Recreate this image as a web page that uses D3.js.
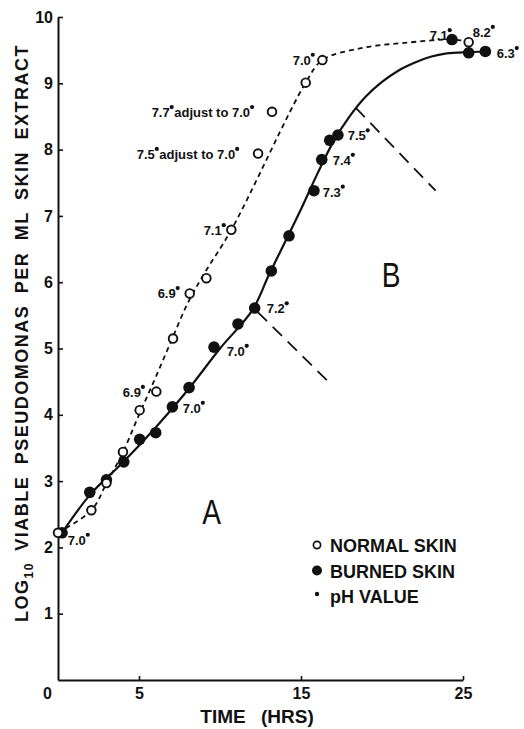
<!DOCTYPE html>
<html>
<head>
<meta charset="utf-8">
<script src="https://cdn.jsdelivr.net/npm/d3@7"></script>
<style>
    body { margin: 0; background: #fff; }
    svg { display: block; }
    text { font-family: "Liberation Sans", Arial, sans-serif; fill: #111; }
</style>
</head>
<body>
<div id="chart"></div>
<script>

// time (hrs), log10 count
var normalSkin = [[0, 2.22], [2.06, 2.56], [2.99, 2.97], [4.01, 3.44], [5.04, 4.07], [6.07, 4.35],
    [7.1, 5.15], [8.13, 5.83], [9.16, 6.06], [10.7, 6.79], [12.35, 7.94], [13.21, 8.57],
    [15.29, 9.01], [16.32, 9.35], [25.35, 9.62]];

var burnedSkin = [[0.25, 2.22], [1.96, 2.83], [2.99, 3.02], [4.06, 3.29], [5.04, 3.63], [6.03, 3.73],
    [7.06, 4.12], [8.09, 4.41], [9.63, 5.02], [11.11, 5.37], [12.14, 5.61], [13.17, 6.17],
    [14.26, 6.70], [15.8, 7.38], [16.28, 7.85], [16.77, 8.14], [17.28, 8.22], [24.32, 9.66],
    [25.35, 9.46], [26.38, 9.48]];

// hand drawn fit curves
var normalFit = [[0, 2.22], [2.06, 2.56], [3, 2.97], [4, 3.43], [5, 4.0], [6, 4.55], [7, 5.12],
    [8, 5.68], [9, 6.12], [10.7, 6.79], [15.29, 9.01], [16.32, 9.35], [18.7, 9.53], [21.4, 9.61],
    [24.3, 9.66], [25.35, 9.63]];

var burnedFit = [[0.25, 2.22], [2, 2.8], [4, 3.28], [6, 3.8], [8, 4.37], [10, 5.0], [12, 5.58],
    [13, 6.1], [14, 6.6], [15, 7.1], [16, 7.63], [17, 8.12], [18, 8.5], [19, 8.8], [20, 9.02],
    [21, 9.19], [22, 9.31], [23, 9.4], [24, 9.45], [25.35, 9.47], [26.38, 9.48]];

var tangentA = [[12.33, 5.55], [16.77, 4.48]];
var tangentB = [[18.38, 8.63], [23.31, 7.38]];

// pH labels: text ("*" = pH dot), time, value at baseline left
var phLabels = [
    ["7.0*", 0.6, 2.04],
    ["6.9*", 4.0, 4.27],
    ["7.0*", 7.7, 4.03],
    ["6.9*", 6.15, 5.76],
    ["7.0*", 10.41, 4.89],
    ["7.2*", 12.88, 5.53],
    ["7.1*", 8.99, 6.71],
    ["7.5*adjust to 7.0*", 4.86, 7.86],
    ["7.7*adjust to 7.0*", 5.78, 8.49],
    ["7.0*", 14.49, 9.28],
    ["7.5*", 17.88, 8.14],
    ["7.4*", 16.96, 7.77],
    ["7.3*", 16.34, 7.29],
    ["7.1*", 22.94, 9.65],
    ["8.2*", 25.6, 9.70],
    ["6.3*", 27.08, 9.38]
];

var phaseLabels = [["A", 9.49, 2.35], ["B", 20.57, 5.93]];

var xTicks = [0, 5, 15, 25];
var yTicks = [1, 2, 3, 4, 5, 6, 7, 8, 9, 10];
var legendItems = ["NORMAL SKIN", "BURNED SKIN", "pH VALUE"];

var margin = { top: 17, right: 61, bottom: 49, left: 58 },
    width = 524 - margin.left - margin.right,
    height = 729 - margin.top - margin.bottom;

var root = d3.select("#chart")
    .append("svg")
    .attr("width", 524)
    .attr("height", 729);

var svg = root.append("g")
    .attr("transform", "translate(" + margin.left + "," + margin.top + ")");

var x = d3.scaleLinear().domain([0, 25]).range([0, width]);
var y = d3.scaleLinear().domain([0, 10]).range([height, 0]);

// axes, ticks point inwards
var xAxis = svg.append("g")
    .attr("transform", "translate(0," + height + ")")
    .call(d3.axisBottom(x).tickValues(xTicks).tickSizeInner(-4).tickSizeOuter(0).tickPadding(8));

var yAxis = svg.append("g")
    .call(d3.axisLeft(y).tickValues(yTicks).tickSizeInner(-5).tickSizeOuter(0).tickPadding(5));

[xAxis, yAxis].forEach(function (a) {
    a.select(".domain").attr("stroke", "#111").attr("stroke-width", 2);
    a.selectAll(".tick line").attr("stroke", "#111").attr("stroke-width", 1.6);
    a.selectAll(".tick text")
        .attr("font-family", "Liberation Sans, Arial, sans-serif")
        .attr("font-size", 16)
        .attr("font-weight", "bold")
        .attr("fill", "#111");
});
xAxis.selectAll(".tick").filter(function (d) { return d === 0; })
    .select("text").attr("dx", -11);
xAxis.selectAll(".tick").filter(function (d) { return d === 0; })
    .select("line").remove();

var line = d3.line()
    .x(function (d) { return x(d[0]); })
    .y(function (d) { return y(d[1]); })
    .curve(d3.curveCatmullRom.alpha(0.5));

svg.append("path")
    .datum(normalFit)
    .attr("d", line)
    .attr("fill", "none")
    .attr("stroke", "#111")
    .attr("stroke-width", 1.8)
    .attr("stroke-dasharray", "5,4");

svg.append("path")
    .datum(burnedFit)
    .attr("d", line)
    .attr("fill", "none")
    .attr("stroke", "#111")
    .attr("stroke-width", 2.2);

// the two long dashed markers
[tangentA, tangentB].forEach(function (t) {
    svg.append("path")
        .datum(t)
        .attr("d", d3.line().x(function (d) { return x(d[0]); }).y(function (d) { return y(d[1]); }))
        .attr("fill", "none")
        .attr("stroke", "#111")
        .attr("stroke-width", 1.8)
        .attr("stroke-dasharray", "13,8");
});

// points
svg.append("g").selectAll("circle")
    .data(burnedSkin)
    .enter().append("circle")
    .attr("cx", function (d) { return x(d[0]); })
    .attr("cy", function (d) { return y(d[1]); })
    .attr("r", 5.8)
    .attr("fill", "#111");

svg.append("g").selectAll("circle")
    .data(normalSkin)
    .enter().append("circle")
    .attr("cx", function (d) { return x(d[0]); })
    .attr("cy", function (d) { return y(d[1]); })
    .attr("r", 4.3)
    .attr("fill", "#fff")
    .attr("stroke", "#111")
    .attr("stroke-width", 1.9);

// pH labels: text pieces measured one by one, the pH dot drawn as a small circle
function addPh(g, str) {
    var parts = str.split("*");
    var pos = 0;
    parts.forEach(function (p, i) {
        if (p.length) {
            var t = g.append("text")
                .attr("x", pos)
                .attr("font-size", 13)
                .attr("font-weight", "bold")
                .text(p);
            pos += t.node().getComputedTextLength();
        }
        if (i < parts.length - 1) {
            g.append("circle")
                .attr("cx", pos + 2)
                .attr("cy", -10)
                .attr("r", 2.1)
                .attr("fill", "#111");
            pos += 4.5;
        }
    });
}

svg.append("g").selectAll("g")
    .data(phLabels)
    .enter().append("g")
    .attr("transform", function (d) { return "translate(" + x(d[1]) + "," + y(d[2]) + ")"; })
    .each(function (d) { addPh(d3.select(this), d[0]); });

// big A / B, narrow and thin
svg.selectAll(".phase")
    .data(phaseLabels)
    .enter().append("text")
    .attr("class", "phase")
    .attr("transform", function (d) { return "translate(" + x(d[1]) + "," + y(d[2]) + ") scale(0.78,1)"; })
    .attr("text-anchor", "middle")
    .attr("font-size", 36)
    .attr("font-weight", 300)
    .text(function (d) { return d[0]; });

// legend
var legend = root.selectAll(".legend")
    .data(legendItems)
    .enter().append("g")
    .attr("class", "legend")
    .attr("transform", function (d, i) { return "translate(317," + (545 + i * 25.5) + ")"; });

legend.append("circle")
    .attr("r", function (d, i) { return [3.6, 5, 2.2][i]; })
    .attr("cy", function (d, i) { return i == 2 ? -2 : 0; })
    .attr("fill", function (d, i) { return i == 0 ? "#fff" : "#111"; })
    .attr("stroke", function (d, i) { return i == 0 ? "#111" : "none"; })
    .attr("stroke-width", 1.7);

legend.append("text")
    .attr("x", 13)
    .attr("y", 7)
    .attr("font-size", 18)
    .attr("font-weight", "bold")
    .text(function (d) { return d; });

// axis titles
root.append("text")
    .attr("x", 257)
    .attr("y", 723)
    .attr("text-anchor", "middle")
    .attr("font-size", 19)
    .attr("font-weight", "bold")
    .attr("word-spacing", 10)
    .text("TIME (HRS)");

var yt = root.append("text")
    .attr("transform", "translate(28,333) rotate(-90)")
    .attr("text-anchor", "middle")
    .attr("font-size", 18)
    .attr("font-weight", "bold")
    .attr("letter-spacing", 1.5)
    .attr("word-spacing", 5);
yt.append("tspan").text("LOG");
yt.append("tspan").attr("dy", 5).attr("font-size", 12).text("10");
yt.append("tspan").attr("dy", -5).text(" VIABLE PSEUDOMONAS PER ML SKIN EXTRACT");

</script>
</body>
</html>
